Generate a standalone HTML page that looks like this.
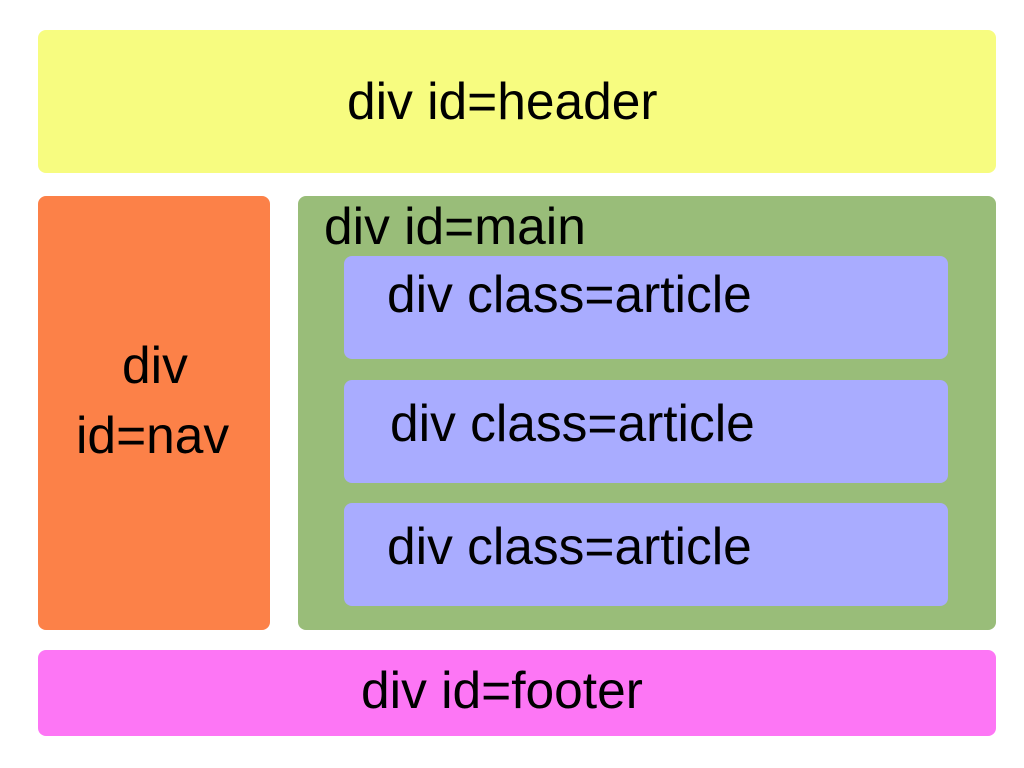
<!DOCTYPE html>
<html><head><style>
body{margin:0;width:1024px;height:768px;background:#fff;position:relative;overflow:hidden;font-family:"Liberation Sans",sans-serif;color:#000}
.b{position:absolute;border-radius:8px}
.t{position:absolute;white-space:nowrap;font-size:52px;line-height:1;transform-origin:0 0;transform:scaleX(0.99)}
</style></head><body>
<div class="b" style="left:38px;top:30px;width:958px;height:143px;background:#f7fc80"></div>
<div class="b" style="left:38px;top:196px;width:232px;height:434px;background:#fc8148"></div>
<div class="b" style="left:298px;top:196px;width:698px;height:434px;background:#99bd79"></div>
<div class="b" style="left:344px;top:256px;width:604px;height:103px;background:#a9acff"></div>
<div class="b" style="left:344px;top:380px;width:604px;height:103px;background:#a9acff"></div>
<div class="b" style="left:344px;top:503px;width:604px;height:103px;background:#a9acff"></div>
<div class="b" style="left:38px;top:650px;width:958px;height:86px;background:#fd76f5"></div>
<div class="t" style="left:347px;top:76px">div id=header</div>
<div class="t" style="left:122px;top:340px">div</div>
<div class="t" style="left:76px;top:410px">id=nav</div>
<div class="t" style="left:324px;top:201px">div id=main</div>
<div class="t" style="left:387px;top:269px">div class=article</div>
<div class="t" style="left:390px;top:398px">div class=article</div>
<div class="t" style="left:387px;top:521px">div class=article</div>
<div class="t" style="left:361px;top:665px">div id=footer</div>
</body></html>
